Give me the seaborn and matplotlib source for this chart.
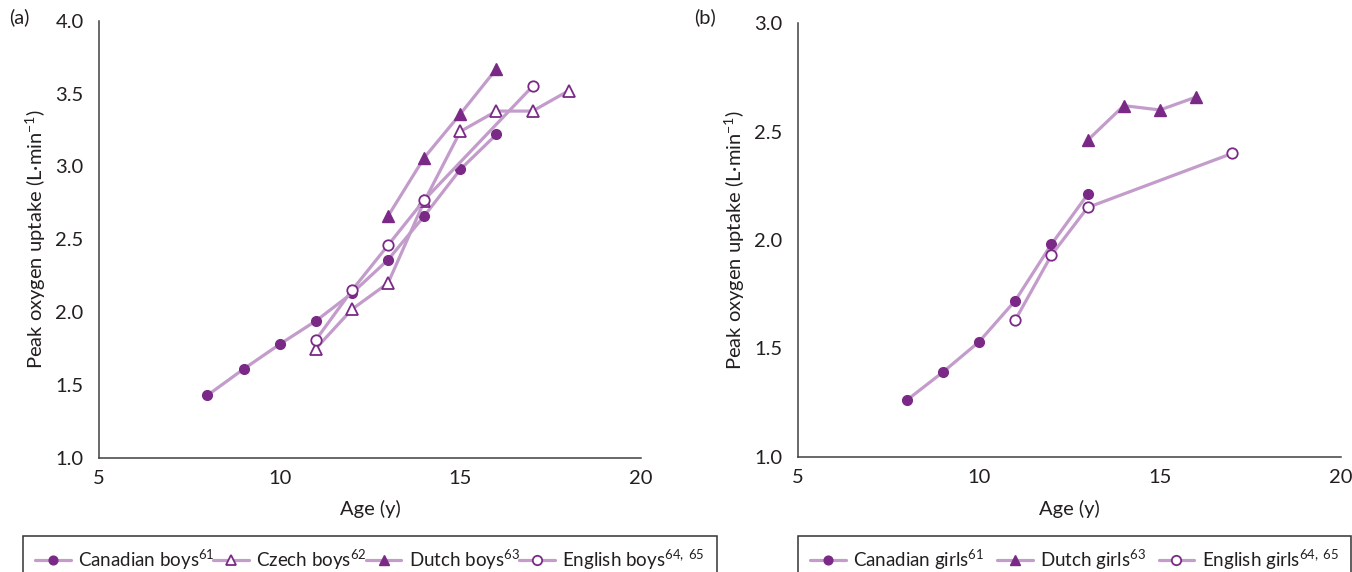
import matplotlib
matplotlib.use("Agg")
import matplotlib.pyplot as plt
import pandas as pd
import seaborn as sns

# ---------------- data ----------------
# Panel (a): boys
canadian_boys_age = [8, 9, 10, 11, 12, 13, 14, 15, 16]
canadian_boys_vo2 = [1.43, 1.61, 1.78, 1.94, 2.13, 2.36, 2.66, 2.98, 3.22]
czech_boys_age = [11, 12, 13, 14, 15, 16, 17, 18]
czech_boys_vo2 = [1.75, 2.02, 2.20, 2.76, 3.24, 3.38, 3.38, 3.52]
dutch_boys_age = [13, 14, 15, 16]
dutch_boys_vo2 = [2.66, 3.06, 3.36, 3.67]
english_boys_age = [11, 12, 13, 14, 17]
english_boys_vo2 = [1.81, 2.15, 2.46, 2.77, 3.55]

# Panel (b): girls
canadian_girls_age = [8, 9, 10, 11, 12, 13]
canadian_girls_vo2 = [1.26, 1.39, 1.53, 1.72, 1.98, 2.21]
dutch_girls_age = [13, 14, 15, 16]
dutch_girls_vo2 = [2.46, 2.62, 2.60, 2.66]
english_girls_age = [11, 12, 13, 17]
english_girls_vo2 = [1.63, 1.93, 2.15, 2.40]

boys_labels = ["Canadian boys$^{61}$", "Czech boys$^{62}$",
               "Dutch boys$^{63}$", "English boys$^{64,\\ 65}$"]
girls_labels = ["Canadian girls$^{61}$", "Dutch girls$^{63}$",
                "English girls$^{64,\\ 65}$"]

x_ticks = [5, 10, 15, 20]
y_ticks_a = [1.0, 1.5, 2.0, 2.5, 3.0, 3.5, 4.0]
y_ticks_b = [1.0, 1.5, 2.0, 2.5, 3.0]

# ---------------- style ----------------
sns.set_style("white")
plt.rcParams["font.family"] = ["Lato", "DejaVu Sans"]
plt.rcParams["mathtext.fontset"] = "custom"
plt.rcParams["mathtext.rm"] = "Lato"
plt.rcParams["mathtext.it"] = "Lato:italic"
plt.rcParams["mathtext.bf"] = "Lato:bold"

LINE = "#c39ccb"
MARK = "#7a2a86"
TEXT = "#231f20"
FS = 14.5
LFS = 13.5

W, H = 1352, 572
fig = plt.figure(figsize=(W / 100, H / 100), dpi=100)
A_L, A_R, A_T, A_B = 99, 641, 20.7, 458
B_L, B_R, B_T, B_B = 798, 1341, 23.3, 456.7
axA = fig.add_axes([A_L / W, 1 - A_B / H, (A_R - A_L) / W, (A_B - A_T) / H])
axB = fig.add_axes([B_L / W, 1 - B_B / H, (B_R - B_L) / W, (B_B - B_T) / H])

styles = {
    "filled_circle": dict(marker="o", markersize=7, markerfacecolor=MARK,
                          markeredgecolor=MARK, markeredgewidth=1.0),
    "open_tri": dict(marker="^", markersize=8, markerfacecolor="white",
                     markeredgecolor=MARK, markeredgewidth=1.3),
    "filled_tri": dict(marker="^", markersize=8, markerfacecolor=MARK,
                       markeredgecolor=MARK, markeredgewidth=1.0),
    "open_circle": dict(marker="o", markersize=7.5, markerfacecolor="white",
                        markeredgecolor=MARK, markeredgewidth=1.3),
}


def draw(ax, ages, vals, style, label):
    df = pd.DataFrame({"Age": ages, "VO2": vals})
    sns.lineplot(data=df, x="Age", y="VO2", ax=ax, color=LINE, linewidth=2.3,
                 label=label, legend=False, **styles[style])


draw(axA, canadian_boys_age, canadian_boys_vo2, "filled_circle", boys_labels[0])
draw(axA, czech_boys_age, czech_boys_vo2, "open_tri", boys_labels[1])
draw(axA, dutch_boys_age, dutch_boys_vo2, "filled_tri", boys_labels[2])
draw(axA, english_boys_age, english_boys_vo2, "open_circle", boys_labels[3])

draw(axB, canadian_girls_age, canadian_girls_vo2, "filled_circle", girls_labels[0])
draw(axB, dutch_girls_age, dutch_girls_vo2, "filled_tri", girls_labels[1])
draw(axB, english_girls_age, english_girls_vo2, "open_circle", girls_labels[2])

for ax, yt, ylim in [(axA, y_ticks_a, (1.0, 4.0)), (axB, y_ticks_b, (1.0, 3.0))]:
    ax.set_xlim(5, 20)
    ax.set_ylim(*ylim)
    ax.set_xticks(x_ticks)
    ax.set_xticklabels([str(t) for t in x_ticks])
    ax.set_yticks(yt)
    ax.set_yticklabels([f"{t:.1f}" for t in yt])
    for s in ["top", "right"]:
        ax.spines[s].set_visible(False)
    for s in ["left", "bottom"]:
        ax.spines[s].set_color("#404040")
        ax.spines[s].set_linewidth(1.1)
    ax.tick_params(axis="both", length=0, labelsize=FS, colors=TEXT)
    ax.tick_params(axis="y", pad=11)
    ax.tick_params(axis="x", pad=9)
    ax.set_xlabel("Age (y)", fontsize=FS, color=TEXT)
    ax.set_ylabel("Peak oxygen uptake (L\u00b7min$^{-1}$)", fontsize=FS, color=TEXT)
    for ln in ax.get_lines():
        ln.set_clip_on(False)

axA.xaxis.set_label_coords(0.5, (A_B - 500) / (A_B - A_T))
axB.xaxis.set_label_coords(0.5, (B_B - 500) / (B_B - B_T))
axA.yaxis.set_label_coords((48 - A_L) / (A_R - A_L), 0.5)
axB.yaxis.set_label_coords((747 - B_L) / (B_R - B_L), 0.5)

fig.text(9 / W, 1 - 8 / H, "(a)", fontsize=FS, color=TEXT, ha="left", va="top")
fig.text(694 / W, 1 - 8 / H, "(b)", fontsize=FS, color=TEXT, ha="left", va="top")

legend_kw = dict(loc="upper left", mode="expand", frameon=True,
                 fancybox=False, edgecolor="#333333", framealpha=1,
                 fontsize=LFS, handlelength=1.9, handletextpad=0.4,
                 columnspacing=0.6, borderpad=0.65, borderaxespad=0,
                 markerscale=0.9)

hA, lA = axA.get_legend_handles_labels()
legA = fig.legend(hA, lA, ncol=4,
                  bbox_to_anchor=(22.7 / W, 1 - 535.7 / H, (716.7 - 22.7) / W, 0),
                  **legend_kw)
hB, lB = axB.get_legend_handles_labels()
legB = fig.legend(hB, lB, ncol=3,
                  bbox_to_anchor=(798 / W, 1 - 535.7 / H, (1351 - 798) / W, 0),
                  **legend_kw)
for leg in (legA, legB):
    leg.get_frame().set_linewidth(1.1)
    for t in leg.get_texts():
        t.set_color(TEXT)

fig.savefig("out.png", dpi=100)
